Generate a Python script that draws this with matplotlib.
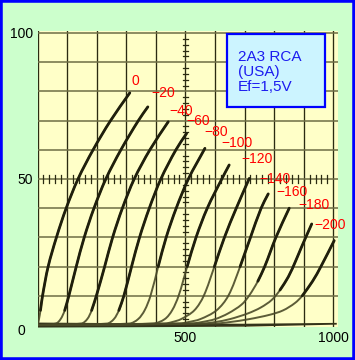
import matplotlib
matplotlib.use("Agg")
import numpy as np
import matplotlib.pyplot as plt
from matplotlib.patches import Rectangle, PathPatch
from matplotlib.path import Path

plt.rcParams['font.family'] = ['Liberation Sans', 'DejaVu Sans']

# ---- data: anode current Ia (mA) vs anode voltage Ua (V) for grid voltages ----
grid_labels = ["0", "−20", "−40", "−60", "−80", "−100", "−120", "−140", "−160", "−180", "−200"]

ua_0 = [0, 5, 10, 17, 36, 64, 97, 137, 188, 247, 312]
ia_0 = [0, 2, 5, 10, 20, 30, 40, 50, 60, 70, 79.5]

ua_m20 = [0, 62, 78, 92, 106, 131, 158, 191, 231, 282, 341, 373]
ia_m20 = [0, 0.5, 2, 5, 10, 20, 30, 40, 50, 60, 70, 74.7]

ua_m40 = [0, 148, 168, 183, 199, 227, 254, 287, 327, 380, 442]
ia_m40 = [0, 0.5, 2, 5, 10, 20, 30, 40, 50, 60, 69.6]

ua_m60 = [0, 235, 258, 275, 292, 318, 345, 378, 417, 468, 504]
ia_m60 = [0, 0.5, 2, 5, 10, 20, 30, 40, 50, 60, 65.6]

ua_m80 = [0, 310, 340, 362, 382, 408, 435, 469, 510, 566]
ia_m80 = [0, 0.5, 2, 5, 10, 20, 30, 40, 50, 60.5]

ua_m100 = [0, 390, 430, 455, 477, 506, 536, 574, 623, 648]
ia_m100 = [0, 0.5, 2, 5, 10, 20, 30, 40, 50, 54.8]

ua_m120 = [0, 430, 455, 485, 530, 562, 598, 632, 672, 716]
ia_m120 = [0, 0.5, 1, 2, 5, 10, 20, 30, 40, 50.2]

ua_m140 = [0, 480, 510, 550, 605, 645, 685, 720, 756, 780]
ia_m140 = [0, 0.5, 1, 2, 5, 10, 20, 30, 40, 44.9]

ua_m160 = [0, 520, 555, 600, 645, 690, 715, 745, 768, 806, 851]
ia_m160 = [0, 0.5, 1, 2, 4, 7, 10, 15, 20, 30, 40]

ua_m180 = [0, 560, 600, 650, 712, 755, 792, 820, 848, 873, 893, 927]
ia_m180 = [0, 0.5, 1, 2, 4, 6, 8.6, 12, 16.5, 22, 26.8, 34.6]

ua_m200 = [0, 600, 650, 715, 785, 830, 870, 895, 930, 958, 1003]
ia_m200 = [0, 0.5, 1, 2, 3.5, 5, 7.5, 10, 15, 20, 28.9]

curves_u = [ua_0, ua_m20, ua_m40, ua_m60, ua_m80, ua_m100, ua_m120, ua_m140, ua_m160, ua_m180, ua_m200]
curves_i = [ia_0, ia_m20, ia_m40, ia_m60, ia_m80, ia_m100, ia_m120, ia_m140, ia_m160, ia_m180, ia_m200]

x_ticks = [500, 1000]
x_tick_labels = ["500", "1000"]
y_ticks = [50, 100]
y_tick_labels = ["50", "100"]

info_lines = ["2A3 RCA", "(USA)", "Ef=1,5V"]

# label offsets (pixels) relative to curve end points
label_offsets = [(6, 12), (15, 14), (13, 11), (12, 12), (11, 16), (8, 22),
                 (8, 19), (7, 15), (3, 16), (2, 19), (-4, 16)]

# ---- figure ----
W, H = 355, 360
fig = plt.figure(figsize=(W / 100, H / 100), dpi=100, facecolor='#ccffcc')

left_px, right_px, top_px, bot_px = 37.5, 337.5, 31.0, 327.0
ax = fig.add_axes([left_px / W, 1 - bot_px / H, (right_px - left_px) / W, (bot_px - top_px) / H])
xpx = 0.2956
ypx = 2.92
ax.set_xlim(0, (right_px - 37.7) / xpx)
ax.set_ylim(-(bot_px - 325) / ypx, (325 - top_px) / ypx)
ax.set_facecolor('#ffffc8')
for s in ax.spines.values():
    s.set_visible(False)

# grid
for v in range(0, 1001, 100):
    ax.axvline(v, color='#2b2b12', lw=0.95, zorder=1)
for h in range(10, 101, 10):
    ax.axhline(h, color='#6e6e45', lw=1.1, zorder=1)

# small ticks on the 500 V and 50 mA lines
for v in range(20, 1001, 20):
    if v % 100:
        ax.plot([v, v], [48.7, 51.3], color='#2b2b12', lw=0.9, zorder=1)
for h in range(2, 101, 2):
    if h % 10:
        ax.plot([491.5, 508.5], [h, h], color='#2b2b12', lw=0.9, zorder=1)

# baseline band (all traces overlapping at Ia = 0)
ax.fill_between([0, 300, 700, 1010], [-0.7, -0.6, -0.4, 0.3], [1.0, 0.8, 0.6, 0.9],
                color='#33331a', lw=0, zorder=2)


def smooth_path(u, i):
    """Cubic Bezier path through the read points (chord-length Catmull-Rom)."""
    p = np.column_stack([np.asarray(u, float) * xpx, np.asarray(i, float) * ypx])
    n = len(p)
    d = np.r_[0, np.cumsum(np.hypot(*np.diff(p, axis=0).T))]
    tang = np.zeros_like(p)
    for k in range(n):
        a, b = max(k - 1, 0), min(k + 1, n - 1)
        tang[k] = (p[b] - p[a]) / (d[b] - d[a])
    verts = [p[0]]
    codes = [Path.MOVETO]
    for k in range(n - 1):
        h = (d[k + 1] - d[k]) / 3
        verts += [p[k] + tang[k] * h, p[k + 1] - tang[k + 1] * h, p[k + 1]]
        codes += [Path.CURVE4] * 3
    verts = np.array(verts)
    verts[:, 0] /= xpx
    verts[:, 1] /= ypx
    return Path(verts, codes)


for k, (u, i) in enumerate(zip(curves_u, curves_i)):
    ax.add_patch(PathPatch(smooth_path(u, i), fill=False, edgecolor='#4a4a28', lw=1.4,
                           alpha=0.9, zorder=3, capstyle='round'))
    thresh = 5 if k < 4 else i[-1] * 0.3
    top = [j for j in range(len(u)) if i[j] >= thresh]
    ax.add_patch(PathPatch(smooth_path([u[j] for j in top], [i[j] for j in top]), fill=False,
                           edgecolor='#1f1f0c', lw=2.0, zorder=4, capstyle='round'))
    ax.annotate(grid_labels[k], xy=(u[-1], i[-1]), xytext=label_offsets[k],
                textcoords='offset pixels', color='#ff0000', fontsize=10,
                ha='center', va='center', zorder=6)

ax.set_xticks(x_ticks)
ax.set_xticklabels(x_tick_labels, fontsize=10)
ax.set_yticks(y_ticks)
ax.set_yticklabels(y_tick_labels, fontsize=10)
ax.tick_params(length=0, pad=3)
fig.text(21.7 / W, 1 - 331 / H, "0", fontsize=10, ha='center', va='center')

# info box
bx0, by0, bx1, by1 = 227, 34, 325, 107
fig.patches.append(Rectangle((bx0 / W, 1 - by1 / H), (bx1 - bx0) / W, (by1 - by0) / H,
                             transform=fig.transFigure, facecolor='#ccf4ff',
                             edgecolor='#0000ff', lw=1.6, zorder=10))
for n, line in enumerate(info_lines):
    fig.text(238 / W, 1 - (57 + 15 * n) / H, line, color='#1c1cf0', fontsize=11,
             ha='left', va='center', zorder=11)

# outer blue frame
fig.patches.append(Rectangle((0, 0), 1, 1, transform=fig.transFigure, fill=False,
                             edgecolor='#0000ff', lw=4.0, zorder=20))

fig.savefig('out.png', dpi=100, facecolor=fig.get_facecolor())
